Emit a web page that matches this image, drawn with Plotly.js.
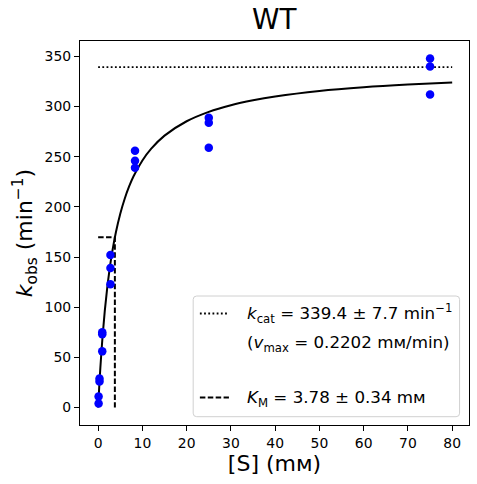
<!DOCTYPE html>
<html><head><meta charset="utf-8">
<script src="https://cdn.plot.ly/plotly-3.0.1.min.js"></script>
<style>html,body{margin:0;padding:0;background:#fff}</style>
</head><body>
<div id="chart" style="width:477px;height:484px"></div>
<script>
// measured data
const substrate = [0.103,0.103,0.309,0.309,0.926,0.926,0.926,2.78,2.78,2.78,8.33,8.33,8.33,25,25,25,75,75,75];
const kobs      = [4,11,26,29,56,73,75,123,139,152,239,246,256,259,284,289,312,340,348];
// fitted curve
const fitX = [0,0.25,0.5,1,1.5,2,2.5,3,4,5,6,7,8,10,12,15,20,25,30,35,40,50,60,70,80];
const fitY = [0,21.1,39.7,71.0,96.4,117.4,135.1,150.2,174.5,193.3,208.2,220.4,230.5,246.3,258.1,271.1,285.4,294.8,301.4,306.3,310.1,315.6,319.3,322.0,324.1];
// fit parameters
const kcat = 339.4;
const KM = 3.78;
const kcatLineX = [0, 80];
const kmLineX = [0, KM, KM];
const kmLineY = [kcat/2, kcat/2, 0];
const xTicks = [0,10,20,30,40,50,60,70,80];
const yTicks = [0,50,100,150,200,250,300,350];
const legendTexts = [
  "<i>k</i><sub>cat</sub> = 339.4 ± 7.7 min<sup>−1</sup>",
  "(<i>v</i><sub>max</sub> = 0.2202 mᴍ/min)",
  "<i>K</i><sub>M</sub> = 3.78 ± 0.34 mᴍ"
];

const F = "DejaVu Sans";
const traces = [
  {x: kcatLineX, y: [kcat, kcat], mode: 'lines', line: {color: 'black', width: 1.9, dash: '1.8px,2.4px'}, hoverinfo: 'skip'},
  {x: kmLineX, y: kmLineY, mode: 'lines', line: {color: 'black', width: 2, dash: '5.5px,2.4px'}, hoverinfo: 'skip'},
  {x: fitX, y: fitY, mode: 'lines', line: {color: 'black', width: 2, shape: 'spline'}, hoverinfo: 'skip'},
  {x: substrate, y: kobs, mode: 'markers', marker: {color: '#0000ff', size: 8.5}}
];

// paper coordinate helpers for legend box (plot area 80.3..468.7 x, 41..425 y)
const W = 388.4, H = 384, L0 = 80.3, B0 = 425;
const px = v => (v - L0) / W;
const py = v => (B0 - v) / H;
const bl = 193.3, br = 459.3, bt = 296, bb = 416.7, r = 3.5;
const boxPath = `M ${px(bl+r)} ${py(bt)} L ${px(br-r)} ${py(bt)} Q ${px(br)} ${py(bt)} ${px(br)} ${py(bt+r)} L ${px(br)} ${py(bb-r)} Q ${px(br)} ${py(bb)} ${px(br-r)} ${py(bb)} L ${px(bl+r)} ${py(bb)} Q ${px(bl)} ${py(bb)} ${px(bl)} ${py(bb-r)} L ${px(bl)} ${py(bt+r)} Q ${px(bl)} ${py(bt)} ${px(bl+r)} ${py(bt)} Z`;

const layout = {
  width: 477, height: 484,
  margin: {l: 80.3, r: 8.3, t: 41, b: 59},
  paper_bgcolor: 'white', plot_bgcolor: 'white',
  showlegend: false,
  font: {family: F, color: 'black', size: 13.9},
  title: {text: 'WT', font: {family: F, size: 27.8, color: 'black'}, x: 0.575, xanchor: 'center', xref: 'container', y: 1 - 19/484, yanchor: 'middle', yref: 'container'},
  xaxis: {
    range: [-4.1, 83.8], tickvals: xTicks, ticktext: xTicks.map(String),
    showgrid: false, zeroline: false, showline: true, mirror: true, linecolor: 'black', linewidth: 1.1,
    ticks: 'outside', ticklen: 5, tickwidth: 1.1, tickcolor: 'black',
    tickfont: {family: F, size: 13.9, color: 'black'},
    title: {text: '[S] (mᴍ)', font: {family: F, size: 22, color: 'black'}, standoff: 5}
  },
  yaxis: {
    range: [-17.4, 365.4], tickvals: yTicks, ticktext: yTicks.map(String),
    showgrid: false, zeroline: false, showline: true, mirror: true, linecolor: 'black', linewidth: 1.1,
    ticks: 'outside', ticklen: 5, tickwidth: 1.1, tickcolor: 'black',
    tickfont: {family: F, size: 13.9, color: 'black'},
    title: {text: '<i>k</i><sub>obs</sub> (min<sup>−1</sup>)', font: {family: F, size: 22, color: 'black'}, standoff: 5}
  },
  shapes: [
    {type: 'path', xref: 'paper', yref: 'paper', path: boxPath, fillcolor: 'rgba(255,255,255,0.8)', line: {color: '#d0d0d0', width: 1}},
    {type: 'line', xref: 'paper', yref: 'paper', x0: px(200), x1: px(229), y0: py(313.5), y1: py(313.5), line: {color: 'black', width: 1.9, dash: '1.8px,2.4px'}},
    {type: 'line', xref: 'paper', yref: 'paper', x0: px(200), x1: px(229), y0: py(397.5), y1: py(397.5), line: {color: 'black', width: 2, dash: '5.5px,2.4px'}}
  ],
  annotations: [
    {xref: 'paper', yref: 'paper', x: px(245), y: py(313), xanchor: 'left', yanchor: 'middle', showarrow: false, text: legendTexts[0], font: {family: F, size: 16.7, color: 'black'}},
    {xref: 'paper', yref: 'paper', x: px(245), y: py(343), xanchor: 'left', yanchor: 'middle', showarrow: false, text: legendTexts[1], font: {family: F, size: 16.7, color: 'black'}},
    {xref: 'paper', yref: 'paper', x: px(245), y: py(398), xanchor: 'left', yanchor: 'middle', showarrow: false, text: legendTexts[2], font: {family: F, size: 16.7, color: 'black'}}
  ]
};
Plotly.newPlot('chart', traces, layout, {displayModeBar: false, staticPlot: true});
</script>
</body></html>
